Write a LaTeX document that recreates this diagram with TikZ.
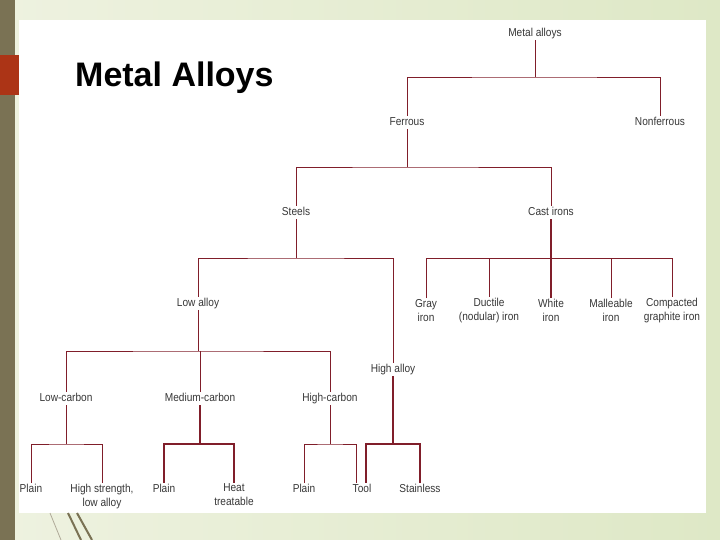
\documentclass[tikz,border=0pt]{standalone}
\usepackage{fontspec}
\setmainfont{Liberation Sans}
\newfontfamily\treefont[FakeStretch=0.88]{Liberation Sans}
\definecolor{branchred}{RGB}{128,30,42}
\definecolor{labelgray}{RGB}{55,55,55}
\definecolor{slidegreenA}{RGB}{238,242,224}
\definecolor{slidegreenB}{RGB}{222,232,198}
\definecolor{olivebar}{RGB}{122,114,84}
\definecolor{tabred}{RGB}{172,52,22}

\begin{document}
\begin{tikzpicture}[x=1pt,y=-1pt,
  lbl/.style={font=\treefont\fontsize{11.5}{14}\selectfont,text=labelgray,
    align=center,inner sep=1pt,yshift=-1.5pt},
  leaf/.style={lbl,text height=8.5pt,text depth=2.5pt},
  branch/.style={draw=branchred,line width=0.9pt},
  heavy/.style={branch,line width=1.6pt}]
\useasboundingbox (0,0) rectangle (720,540);
% slide background
\shade[left color=slidegreenA,right color=slidegreenB] (0,0) rectangle (720,540);
\fill[olivebar] (0,0) rectangle (15,540);
\fill[tabred] (0,55) rectangle (19,95);
\fill[white] (19,20) rectangle (706,513);
\draw[olivebar!60,line width=0.8pt] (50,513) -- (61,540);
\draw[olivebar,line width=2pt] (68,513) -- (81,540);
\draw[olivebar,line width=2pt] (77,513) -- (92,540);
\node[font=\bfseries\fontsize{34}{37}\selectfont,anchor=base west,inner sep=0pt]
  (title) at (75,87) {Metal Alloys};

% tree labels
\node[leaf] (ma) at (535,32) {Metal alloys};
\node[leaf] (fe) at (407,121) {Ferrous};
\node[leaf] (nf) at (660,121) {Nonferrous};
\node[leaf] (st) at (296,211) {Steels};
\node[leaf] (ci) at (551,211) {Cast irons};
\node[leaf] (la) at (198,302) {Low alloy};
\node[leaf] (ha) at (393,368) {High alloy};
\node[lbl] (gi) at (426,309) {Gray\\iron};
\node[lbl] (di) at (489,309) {Ductile\\(nodular) iron};
\node[lbl] (wi) at (551,309) {White\\iron};
\node[lbl] (mi) at (611,309) {Malleable\\iron};
\node[lbl] (cg) at (672,309) {Compacted\\graphite iron};
\node[leaf] (lc) at (66,397) {Low-carbon};
\node[leaf] (mc) at (200,397) {Medium-carbon};
\node[leaf] (hc) at (330,397) {High-carbon};
\node[leaf,anchor=north] (pa) at (31,481) {Plain};
\node[lbl,anchor=north] (hs) at (102,481) {High strength,\\low alloy};
\node[leaf,anchor=north] (pb) at (164,481) {Plain};
\node[lbl,anchor=north] (ht) at (234,481) {Heat\\treatable};
\node[leaf,anchor=north] (pc) at (304,481) {Plain};
\node[leaf,anchor=north] (tl) at (362,481) {Tool};
\node[leaf,anchor=north] (ss) at (420,481) {Stainless};

% connectors
\begin{scope}[branch]
\draw (ma.south) -- (ma.south |- 0,77) coordinate (j1);
\draw (fe.north) |- (j1) -| (nf.north);
\draw (fe.south) -- (fe.south |- 0,167) coordinate (j2);
\draw (st.north) |- (j2) -| (ci.north);
\draw (st.south) -- (st.south |- 0,258) coordinate (j3);
\draw (la.north) |- (j3) -| (ha.north);
\draw (gi.north) -- (gi.north |- 0,258) -| (cg.north);
\draw (di.north) -- (di.north |- 0,258);
\draw (mi.north) -- (mi.north |- 0,258);
\draw (la.south) -- (la.south |- 0,351) coordinate (j5);
\draw (lc.north) |- (j5) -| (hc.north);
\draw (mc.north) -- (mc.north |- j5);
\draw (lc.south) -- (lc.south |- 0,444) coordinate (j6);
\draw (pa.north) |- (j6) -| (hs.north);
\draw (hc.south) -- (hc.south |- 0,444) coordinate (j8);
\draw (pc.north) |- (j8) -| ([xshift=-6pt]tl.north);
\end{scope}
\begin{scope}[heavy]
\draw (ci.south) -- (wi.north);
\draw (mc.south) -- (mc.south |- 0,444) coordinate (j7);
\draw (pb.north) |- (j7) -| (ht.north);
\draw (ha.south) -- (ha.south |- 0,444) coordinate (j9);
\draw ([xshift=4pt]tl.north) |- (j9) -| (ss.north);
\end{scope}
\end{tikzpicture}
\end{document}
